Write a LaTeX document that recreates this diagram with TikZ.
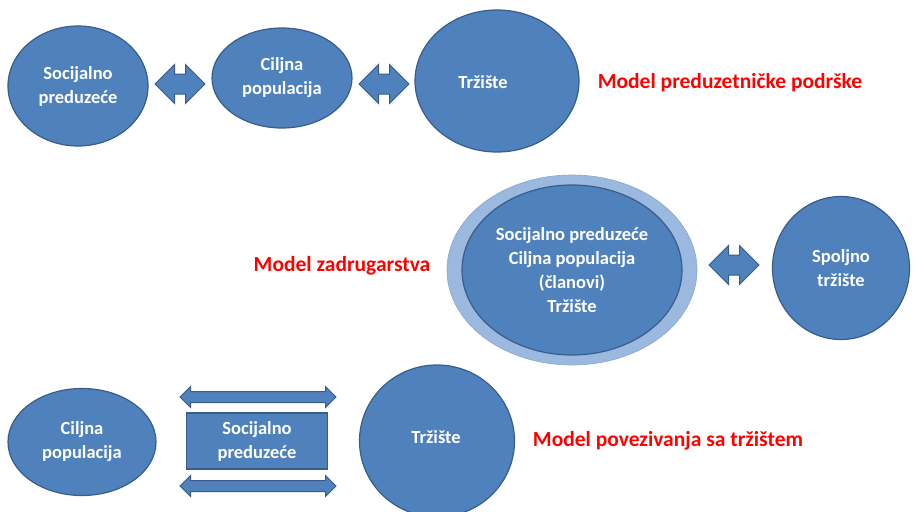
\documentclass[tikz,border=0pt]{standalone}
\usepackage{fontspec}
\setmainfont{Carlito}
\usetikzlibrary{shapes.geometric}
\usetikzlibrary{shapes.arrows}
\definecolor{mblue}{RGB}{79,129,189}
\definecolor{mborder}{RGB}{56,93,138}
\definecolor{mlight}{RGB}{155,185,222}
\definecolor{mred}{RGB}{255,0,0}
\tikzset{blob/.style = {ellipse, fill=mblue, draw=mborder, line width=1.2pt,
                        inner sep=0, text=white, align=center,
                        font=\fontsize{18.5}{24}\selectfont\bfseries}}
\tikzset{dblarrow/.style = {double arrow, fill=mblue, draw=mborder, line width=1pt,
                            inner sep=0, text height=19pt, text depth=0pt,
                            double arrow head extend=9.5pt,
                            minimum height=50pt}}
\tikzset{thinarrow/.style = {dblarrow, text height=10pt, double arrow head extend=5pt,
                             minimum height=156pt}}
\tikzset{modeltext/.style = {text=mred, font=\fontsize{21.5}{24}\selectfont\bfseries}}

\begin{document}
\begin{tikzpicture}[x=1pt, y=-1pt]
          \useasboundingbox (0, 0) rectangle (917, 511);
          % prvi red
          \node [blob, minimum width=140pt, minimum height=120pt] (sp) at (78, 86) {Socijalno\\preduzeće};
          \node [dblarrow] (a1) at (180, 84) {};
          \node [blob, minimum width=140pt, minimum height=100pt] (cp) at (282, 78) {Ciljna\\populacija};
          \node [dblarrow] (a2) at (384, 84) {};
          \node [blob, minimum width=164pt, minimum height=142pt] (tr) at (497, 81) {};
          \node [text=white, font=\fontsize{18.5}{24}\selectfont\bfseries] (trt) at (483, 82) {Tržište};
          \node [modeltext] (m1) at (730, 83) {Model preduzetničke podrške};

          % drugi red
          \node [ellipse, fill=mlight, draw=mlight!80!mborder, line width=0.6pt,
                 minimum width=250pt, minimum height=190pt] (zo) at (572, 270) {};
          \node [blob, minimum width=220pt, minimum height=170pt] (zi) at (572, 270)
                {Socijalno preduzeće\\Ciljna populacija\\(članovi)\\Tržište};
          \node [modeltext] (m2) at (342, 266) {Model zadrugarstva};
          \node [dblarrow] (a3) at (734, 265) {};
          \node [blob, minimum width=137pt, minimum height=143pt] (st) at (841, 268) {Spoljno\\tržište};

          % treci red
          \node [blob, minimum width=148pt, minimum height=107pt] (cp2) at (82, 442) {Ciljna\\populacija};
          \node [thinarrow] (a4) at (258, 397) {};
          \node [blob, rectangle, minimum width=141pt, minimum height=56pt] (sp2) at (257, 441) {Socijalno\\preduzeće};
          \node [thinarrow] (a5) at (258, 486) {};
          \node [blob, minimum width=155pt, minimum height=152pt] (tr2) at (437, 441) {};
          \node [text=white, font=\fontsize{18.5}{24}\selectfont\bfseries] (tr2t) at (436, 437) {Tržište};
          \node [modeltext] (m3) at (668, 441) {Model povezivanja sa tržištem};
        \end{tikzpicture}
\end{document}
